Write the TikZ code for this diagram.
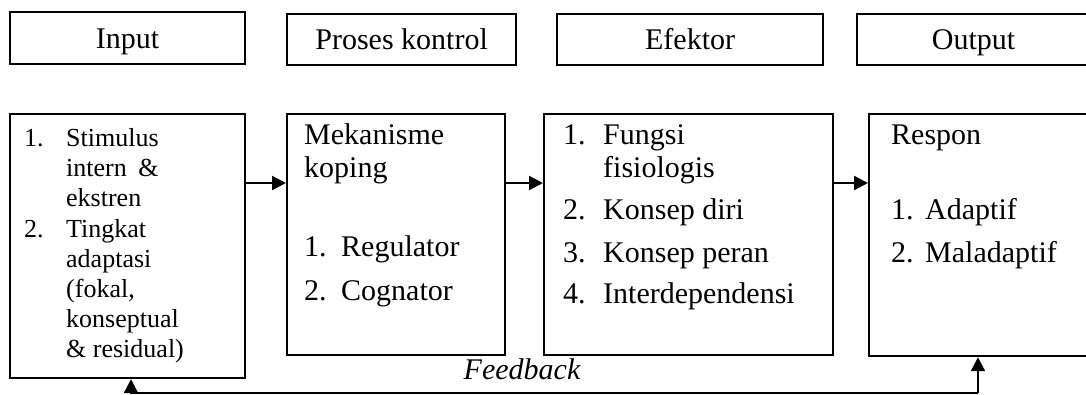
\documentclass[tikz,border=0pt]{standalone}
\usepackage{fontspec}
\setmainfont{Liberation Serif}
\usetikzlibrary{arrows.meta}
\begin{document}
\begin{tikzpicture}[x=1pt,y=-1pt,
  box/.style={draw, line width=2.2pt, inner sep=0pt, anchor=north west},
  btxt/.style={font=\fontsize{30}{36}\selectfont, text height=20pt, text depth=0pt},
  txt/.style={anchor=base west, inner sep=0pt, font=\fontsize{30}{36}\selectfont},
  stxt/.style={anchor=base west, inner sep=0pt, font=\fontsize{26}{30}\selectfont},
  arr/.style={line width=2.2pt, -{Triangle[length=14pt,width=14pt]}}]
\useasboundingbox (0,0) rectangle (1086,395);
% top boxes
\node[box, btxt, minimum width=235pt, minimum height=52pt] (tin) at (9,11) {Input};
\node[box, btxt, minimum width=229pt, minimum height=51pt] (tpk) at (286,13) {Proses kontrol};
\node[box, btxt, minimum width=266pt, minimum height=51pt] (tef) at (556,13) {Efektor};
\node[box, btxt, minimum width=233pt, minimum height=51pt] (tout) at (856,13) {Output};
% bottom boxes
\node[box, minimum width=235pt, minimum height=264pt] (b1) at (9,113) {};
\node[box, minimum width=218pt, minimum height=241pt] (b2) at (286,113) {};
\node[box, minimum width=289pt, minimum height=241pt] (b3) at (543,113) {};
\node[box, minimum width=225pt, minimum height=242pt] (b4) at (868,113) {};
% box 1 text
\node[stxt] (n11) at (24,147) {1.};
\node[stxt] (l11) at (66,147) {Stimulus};
\node[stxt] (l12) at (66,177) {intern\hspace{5pt} \&};
\node[stxt] (l13) at (66,207) {ekstren};
\node[stxt] (n12) at (24,237) {2.};
\node[stxt] (l14) at (66,237) {Tingkat};
\node[stxt] (l15) at (66,267) {adaptasi};
\node[stxt] (l16) at (66,297) {(fokal,};
\node[stxt] (l17) at (66,327) {konseptual};
\node[stxt] (l18) at (66,357) {\& residual)};
% box 2 text
\node[txt] (l21) at (304,145) {Mekanisme};
\node[txt] (l22) at (304,178) {koping};
\node[txt] (n21) at (304,256) {1.};
\node[txt] (l23) at (341,256) {Regulator};
\node[txt] (n22) at (304,300) {2.};
\node[txt] (l24) at (341,300) {Cognator};
% box 3 text
\node[txt] (n31) at (563,145) {1.};
\node[txt] (l31) at (603,145) {Fungsi};
\node[txt] (l32) at (603,178) {fisiologis};
\node[txt] (n32) at (563,220) {2.};
\node[txt] (l33) at (603,220) {Konsep diri};
\node[txt] (n33) at (563,262) {3.};
\node[txt] (l34) at (603,262) {Konsep peran};
\node[txt] (n34) at (563,303) {4.};
\node[txt] (l35) at (603,303) {Interdependensi};
% box 4 text
\node[txt] (l41) at (891,145) {Respon};
\node[txt] (n41) at (891,220) {1.};
\node[txt] (l42) at (925,220) {Adaptif};
\node[txt] (n42) at (891,262) {2.};
\node[txt] (l43) at (925,262) {Maladaptif};
% arrows
\draw[arr] ([yshift=-70pt]b1.north east) -- ([yshift=-70pt]b2.north west);
\draw[arr] ([yshift=-70pt]b2.north east) -- ([yshift=-70pt]b3.north west);
\draw[arr] ([yshift=-70pt]b3.north east) -- ([yshift=-70pt]b4.north west);
% feedback
\coordinate (fbL) at (131,393);
\coordinate (fbR) at (978,393);
\draw[arr] (fbR) -- (fbL) -- (fbL |- b1.south);
\draw[arr] (fbR) -- (fbR |- b4.south);
\node[anchor=base, inner sep=0pt, font=\fontsize{30}{34}\selectfont\itshape] (fb) at (522,379) {Feedback};
\end{tikzpicture}
\end{document}
